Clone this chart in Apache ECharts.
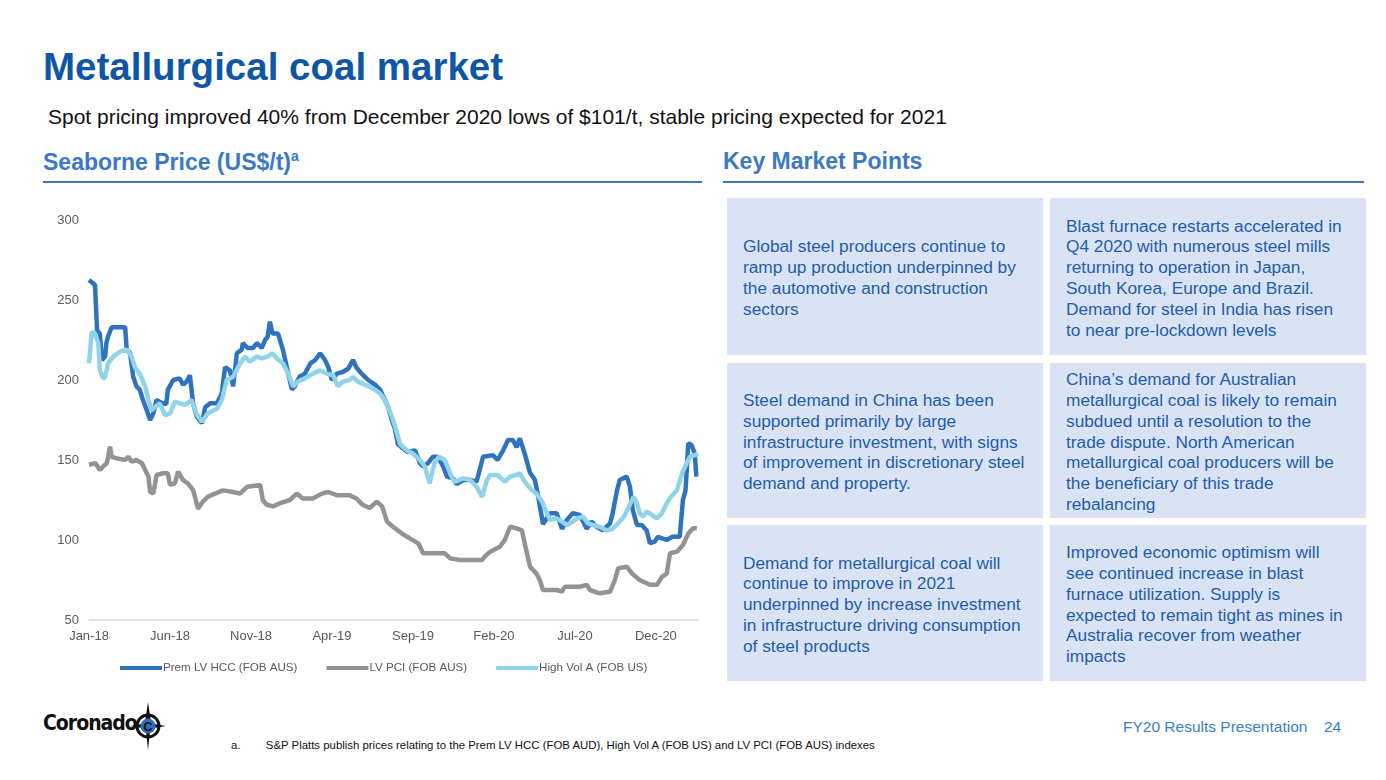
<!DOCTYPE html>
<html><head><meta charset="utf-8">
<script src="https://cdn.jsdelivr.net/npm/echarts@6/dist/echarts.min.js"></script>
<style>
html,body{margin:0;padding:0;width:1386px;height:780px;background:#fff;overflow:hidden;font-family:"Liberation Sans",Arial,sans-serif;}
.abs{position:absolute;white-space:nowrap;}
#title{left:43px;top:45px;font-size:38.5px;font-weight:bold;color:#0F56A6;}
#sub{left:48px;top:105px;font-size:21px;color:#111;}
.sec{font-size:23px;font-weight:bold;color:#3B79C3;}
.rule{position:absolute;height:2px;background:#3B79C3;}
.box{position:absolute;width:316px;background:#DAE3F3;display:flex;align-items:center;box-sizing:border-box;padding:3px 12px 0 16px;color:#1F5DAE;font-size:17.3px;line-height:20.8px;}
.box.r{padding-right:21px;}
#chart{position:absolute;left:0;top:190px;width:720px;height:500px;}
#foot{left:1123px;top:718px;font-size:15.5px;color:#3D7DCA;}
#page{left:1324px;top:718px;font-size:15.5px;color:#3D7DCA;}
#note{left:231px;top:739px;font-size:11.4px;color:#111;}
#logo{left:43px;top:711px;font-size:21px;font-weight:bold;color:#111;letter-spacing:-1px;font-family:"Liberation Sans Narrow","DejaVu Sans Condensed",sans-serif;}
</style></head>
<body>
<div id="title" class="abs">Metallurgical coal market</div>
<div id="sub" class="abs">Spot pricing improved 40% from December 2020 lows of $101/t, stable pricing expected for 2021</div>
<div class="abs sec" style="left:43px;top:148px;">Seaborne Price (US$/t)<sup style="font-size:14px;">a</sup></div>
<div class="rule" style="left:43px;top:181px;width:659px;"></div>
<div class="abs sec" style="left:723px;top:148px;">Key Market Points</div>
<div class="rule" style="left:723px;top:181px;width:641px;"></div>

<div class="box" style="left:727px;top:198px;height:157px;">Global steel producers continue to ramp up production underpinned by the automotive and construction sectors</div>
<div class="box r" style="left:1050px;top:198px;height:157px;">Blast furnace restarts accelerated in Q4 2020 with numerous steel mills returning to operation in Japan, South Korea, Europe and Brazil. Demand for steel in India has risen to near pre-lockdown levels</div>
<div class="box" style="left:727px;top:363px;height:155px;">Steel demand in China has been supported primarily by large infrastructure investment, with signs of improvement in discretionary steel demand and property.</div>
<div class="box r" style="left:1050px;top:363px;height:155px;">China’s demand for Australian metallurgical coal is likely to remain subdued until a resolution to the trade dispute. North American metallurgical coal producers will be the beneficiary of this trade rebalancing</div>
<div class="box" style="left:727px;top:525px;height:156px;">Demand for metallurgical coal will continue to improve in 2021 underpinned by increase investment in infrastructure driving consumption of steel products</div>
<div class="box r" style="left:1050px;top:525px;height:156px;">Improved economic optimism will see continued increase in blast furnace utilization. Supply is expected to remain tight as mines in Australia recover from weather impacts</div>

<div id="chart"></div>

<div id="logo" class="abs">Coronado</div>
<svg class="abs" style="left:128px;top:702px;" width="40" height="48" viewBox="0 0 40 48">
  <polygon points="20,0 23,20 20,48 17,20" fill="#111"/>
  <polygon points="2,24 20,21 38,24 20,27" fill="#111"/>
  <circle cx="20" cy="24" r="11" fill="none" stroke="#111" stroke-width="3"/>
  <circle cx="20" cy="24" r="7.5" fill="#2F6FBA"/>
  <text x="20" y="29" font-size="13" font-weight="bold" text-anchor="middle" fill="#111" font-family="Liberation Sans">C</text>
</svg>
<div id="note" class="abs">a.&nbsp;&nbsp;&nbsp;&nbsp;&nbsp;&nbsp;&nbsp;&nbsp;S&amp;P Platts publish prices relating to the Prem LV HCC (FOB AUD), High Vol A (FOB US) and LV PCI (FOB AUS) indexes</div>
<div id="foot" class="abs">FY20 Results Presentation</div>
<div id="page" class="abs">24</div>

<script>
// x values: months since Jan-2018 (0 = start of Jan-18)
const xTickLabels = ['Jan-18','Jun-18','Nov-18','Apr-19','Sep-19','Feb-20','Jul-20','Dec-20'];
const seriesNames = ['Prem LV HCC (FOB AUS)','LV PCI (FOB AUS)','High Vol A (FOB US)'];

const hccMonths = [0,0.37,0.5,0.67,0.8,1.0,1.07,1.17,1.4,2.23,2.33,2.53,2.73,2.93,3.13,3.33,3.57,3.77,3.97,4.17,4.5,4.77,4.87,5.2,5.6,5.8,6.03,6.23,6.43,6.67,6.97,7.17,7.47,7.9,8.2,8.4,8.7,8.9,9.13,9.43,9.5,9.8,10.13,10.37,10.67,10.87,11.03,11.17,11.33,11.67,11.97,12.3,12.53,12.7,13.0,13.33,13.67,13.97,14.27,14.57,14.77,15.0,15.3,15.67,16.0,16.3,16.5,16.83,17.23,17.67,17.97,18.27,18.47,18.7,18.9,19.07,19.37,19.67,20.13,20.43,20.63,20.93,21.23,21.53,21.87,22.1,22.47,22.7,23.1,23.53,23.93,24.33,24.93,25.23,25.57,25.87,26.17,26.4,26.6,26.9,27.23,27.53,27.7,28.03,28.47,28.87,29.2,29.5,29.87,30.3,30.73,31.03,31.33,31.73,32.17,32.33,32.6,32.77,33.2,33.4,33.57,33.83,34.13,34.43,34.63,34.93,35.13,35.67,36.03,36.47,36.67,36.83,37.0,37.2,37.4,37.5];
const hccValues = [262.5,259.4,231,229,212.5,215,223,227,233,233,219,217,202,196,194,187.5,181,175,179,187.5,185.5,185,194,200,201,197,199,203,185,177,173,183,185.4,185.4,191.7,208,206,196,216.7,219,223,220,220,223,220,225,227,236.5,229,229,219,204,194,196,202,204,210.4,212.5,216.7,212.5,208,200,204,205,207,212.5,208,204,200,197,194,187.5,183,175,169,160,157.3,155,156,148,146,148,152,152,146,139.6,138.5,135,137.5,137.5,136.5,152,153,150,156,162.5,162.5,158,163.5,154,142,137.5,129,110,116.7,116.7,107,112.5,116.7,115.6,107,111.5,108.3,106,110.4,116.7,131,137.5,139.6,133.3,118.75,109.4,109.4,106,98,99,102,100,102,102,125,131,160.4,159.4,154,139.6];

const pciMonths = [0,0.4,0.67,0.87,1.1,1.3,1.4,1.73,2.23,2.43,2.63,2.93,3.27,3.47,3.67,3.77,3.97,4.17,4.57,4.87,5.0,5.3,5.5,5.8,6.1,6.43,6.73,7.03,7.33,7.77,8.27,8.9,9.33,9.77,10.57,10.73,10.97,11.37,11.8,12.4,12.83,13.2,13.83,14.37,14.77,15.3,16.1,16.5,16.9,17.33,17.77,18.1,18.4,18.77,19.33,19.8,20.33,20.63,21.23,21.97,22.3,22.9,23.7,24.27,24.43,24.77,25.37,25.67,26.0,26.4,26.73,26.9,27.23,27.63,27.83,28.03,28.87,29.2,29.37,30.3,30.73,30.93,31.53,32.17,32.47,32.67,33.2,33.53,34.0,34.63,35.07,35.37,35.67,35.87,36.3,36.67,37.0,37.3,37.53];
const pciValues = [147,148,143.75,146,148,158.3,152,151,150,152,149,150,148,143.75,139.6,130.2,129,140.6,141.7,141.7,134.4,135.4,142.7,137.5,135.4,131.25,119.5,124,127,129,131,130,129,133.3,134.4,125,122,121,123,125,129,126,126,129,130,128,128,126,122,120,124,121,111.5,108.3,104,101,97.9,91.7,91.7,91.7,88.5,87.5,87.5,87.5,89.6,92.7,95.8,100,108.3,107.3,106,97.9,83.3,79,75,68.75,68.75,67.7,70.8,70.8,72,68.75,66.7,67.7,75,82.3,83.3,79,75,72,72,77,79,91.7,92.7,96.9,104,107.3,107.3];

const hvaMonths = [0,0.17,0.37,0.57,0.67,0.87,1.0,1.17,1.5,1.9,2.33,2.63,2.83,3.13,3.47,3.67,3.87,4.07,4.37,4.7,5.0,5.3,5.6,5.93,6.33,6.63,6.97,7.33,7.9,8.2,8.5,8.9,9.33,9.63,9.93,10.37,10.67,11.03,11.3,11.6,11.97,12.3,12.6,12.9,13.33,13.83,14.27,14.67,15.07,15.37,15.67,16.1,16.3,16.6,17.03,17.47,17.83,18.13,18.47,18.7,18.9,19.2,19.63,20.0,20.43,20.73,21.03,21.33,21.6,21.97,22.3,22.47,22.6,23.1,23.53,23.93,24.27,24.57,24.77,25.23,25.67,26.0,26.4,26.6,26.9,27.33,27.63,27.97,28.27,28.47,28.87,29.2,29.5,29.87,30.13,30.5,30.8,31.1,31.53,31.97,32.3,32.67,33.03,33.33,33.63,33.83,34.0,34.2,34.43,34.77,35.07,35.37,35.67,35.93,36.3,36.63,36.9,37.1,37.4,37.6];
const hvaValues = [210.4,230,229,223,206,201,202,210.4,214.6,217.7,219,214.6,208,204,196,187.5,181,183,185.4,178,179,186.5,185.4,184.4,187.5,179,174,179,182,187.5,200,202,210.4,214.6,211.5,214.6,213.5,214.6,216.7,213.5,210.4,204,196,199,201,204,206,204,203,196,199,200,202,199,197,195,192.7,189.6,183,177,171,160,156,154,150,146,135.4,148,152,150,141.7,137.5,136.5,138.5,137.5,133.3,127,137.5,140.6,140.6,136.5,139.6,140.6,141.7,136.5,131.25,129,124,116.7,112.5,113.5,111.5,109.4,111.5,113.5,114.6,110.4,109.4,108.3,106,107,110.4,114.6,120.8,127,123,116.7,114.6,117.7,115.6,113.5,116.7,123,127,131,142,148,152,153,154];

const zip = (xs, ys) => xs.map((x, i) => [x, ys[i]]);
const colors = ['#2F73BE', '#939393', '#90D4EA'];

const chart = echarts.init(document.getElementById('chart'));
chart.setOption({
  animation: false,
  color: colors,
  textStyle: { fontFamily: 'Liberation Sans' },
  grid: { left: 89, top: 30, width: 609, height: 400 },
  legend: {
    left: 115, top: 467, icon: 'rect', itemWidth: 42, itemHeight: 4, itemGap: 29,
    textStyle: { fontSize: 11.6, color: '#595959', padding: [0, 0, 0, -4] },
    data: seriesNames
  },
  xAxis: {
    type: 'value', min: 0, max: 37.6, interval: 5,
    splitLine: { show: false }, axisTick: { show: false },
    axisLine: { show: true, lineStyle: { color: '#D9D9D9', width: 1.5 } },
    axisLabel: {
      color: '#595959', fontSize: 13, margin: 10, showMaxLabel: false,
      formatter: v => { const k = v / 5; return (Math.abs(k - Math.round(k)) < 1e-6 && Math.round(k) < xTickLabels.length) ? xTickLabels[Math.round(k)] : ''; }
    }
  },
  yAxis: {
    type: 'value', min: 50, max: 300, interval: 50,
    splitLine: { show: false }, axisTick: { show: false }, axisLine: { show: false },
    axisLabel: { color: '#595959', fontSize: 13, margin: 10 }
  },
  series: [
    { name: seriesNames[0], type: 'line', data: zip(hccMonths, hccValues), showSymbol: false, symbol: 'none', lineStyle: { width: 4.5, color: colors[0] } },
    { name: seriesNames[1], type: 'line', data: zip(pciMonths, pciValues), showSymbol: false, symbol: 'none', lineStyle: { width: 4.5, color: colors[1] } },
    { name: seriesNames[2], type: 'line', data: zip(hvaMonths, hvaValues), showSymbol: false, symbol: 'none', lineStyle: { width: 4.5, color: colors[2] } }
  ]
});
</script>
</body></html>
